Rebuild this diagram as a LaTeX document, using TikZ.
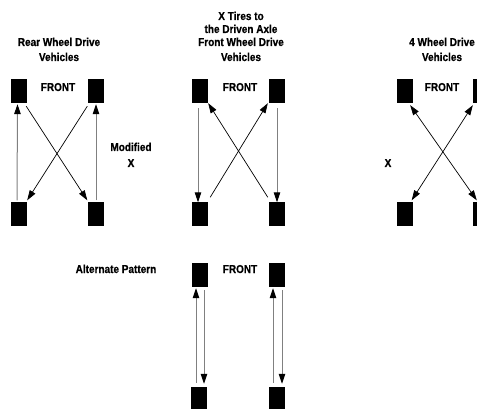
\documentclass[tikz,border=0pt]{standalone}
\usepackage{fontspec}
\newfontfamily\lblfont{Liberation Sans Bold}[FakeStretch=0.87,FakeBold=0.6]
\usetikzlibrary{arrows.meta}
\begin{document}
\begin{tikzpicture}[x=1pt,y=-1pt,
  tire/.style={fill=black,draw=none,rectangle,minimum width=16pt,minimum height=24pt,inner sep=0pt},
  lbl/.style={font=\lblfont\fontsize{11.5}{13}\selectfont,anchor=base,inner sep=0pt},
  tip/.style={-{Triangle[length=10pt,width=6.5pt,color=black]}},
  biti/.style={{Triangle[length=10pt,width=6.5pt]}-{Triangle[length=10pt,width=6.5pt]}},
  vline/.style={draw=black!50,line width=1pt,tip},
  dline/.style={draw=black,line width=0.7pt}]
\useasboundingbox (0,0) rectangle (477,409);
\clip (0,0) rectangle (477,409);
% panel 1: rear wheel drive
\node[tire] (TL1) at (19,91) {};
\node[tire] (TR1) at (95.5,91) {};
\node[tire] (BL1) at (18.5,214.5) {};
\node[tire] (BR1) at (95.5,214.5) {};
\node[lbl] (t1a) at (59,46) {Rear Wheel Drive};
\node[lbl] (t1b) at (59,61) {Vehicles};
\node[lbl] (f1) at (58,91) {FRONT};
\node[lbl] (m1a) at (131,151) {Modified};
\node[lbl] (m1b) at (131,167) {X};
\draw[vline] ([shift={(-1.5,-2)}]BL1.north) -- ([shift={(-1.5,1)}]TL1.south);
\draw[vline] ([shift={(0.5,-2)}]BR1.north) -- ([shift={(0.5,1)}]TR1.south);
\draw[dline,tip] ([shift={(-1,3)}]TL1.south east) -- ([shift={(0,-2)}]BR1.north west);
\draw[dline,tip] ([shift={(0,3)}]TR1.south west) -- ([shift={(0.5,-2)}]BL1.north east);
% panel 2: front wheel drive
\node[tire] (TL2) at (199.5,91) {};
\node[tire] (TR2) at (277,91) {};
\node[tire] (BL2) at (199.5,214.5) {};
\node[tire] (BR2) at (277,214.5) {};
\node[lbl] (t2a) at (241,20) {X Tires to};
\node[lbl] (t2b) at (241,33) {the Driven Axle};
\node[lbl] (t2c) at (241,46) {Front Wheel Drive};
\node[lbl] (t2d) at (241,61) {Vehicles};
\node[lbl] (f2) at (240,91) {FRONT};
\draw[vline] ([shift={(-1.5,5)}]TL2.south) -- ([shift={(-1.5,0)}]BL2.north);
\draw[vline] ([shift={(0,5)}]TR2.south) -- ([shift={(0,0)}]BR2.north);
\draw[dline,tip] ([shift={(2.5,-5)}]BL2.north east) -- ([shift={(-1,0)}]TR2.south west);
\draw[dline,tip] ([shift={(-1,-5)}]BR2.north west) -- ([shift={(0.5,0)}]TL2.south east);
% panel 3: 4 wheel drive
\node[tire] (TL3) at (405,91) {};
\node[tire] (TR3) at (481,91) {};
\node[tire] (BL3) at (404.5,214.5) {};
\node[tire] (BR3) at (481,214.5) {};
\node[lbl] (t3a) at (442,46) {4 Wheel Drive};
\node[lbl] (t3b) at (442,61) {Vehicles};
\node[lbl] (f3) at (442,91) {FRONT};
\node[lbl] (x3) at (388,167) {X};
\draw[dline,biti] ([shift={(-3,2)}]TL3.south east) -- ([shift={(4,-2)}]BR3.north west);
\draw[dline,biti] ([shift={(0,2)}]TR3.south west) -- ([shift={(-1,-2)}]BL3.north east);
% panel 4: alternate pattern
\node[tire] (TL4) at (200,275) {};
\node[tire] (TR4) at (276.5,275) {};
\node[tire] (BL4) at (199,399) {};
\node[tire] (BR4) at (276.5,399) {};
\node[lbl] (a4) at (116,273) {Alternate Pattern};
\node[lbl] (f4) at (240,273) {FRONT};
\draw[vline] ([shift={(-3,-4)}]BL4.north) -- ([shift={(-4,1)}]TL4.south);
\draw[vline] ([shift={(4,3)}]TL4.south) -- ([shift={(5,-3)}]BL4.north);
\draw[vline] ([shift={(-3.5,-4)}]BR4.north) -- ([shift={(-3.5,1)}]TR4.south);
\draw[vline] ([shift={(5.5,3)}]TR4.south) -- ([shift={(5.5,-3)}]BR4.north);
\end{tikzpicture}
\end{document}
